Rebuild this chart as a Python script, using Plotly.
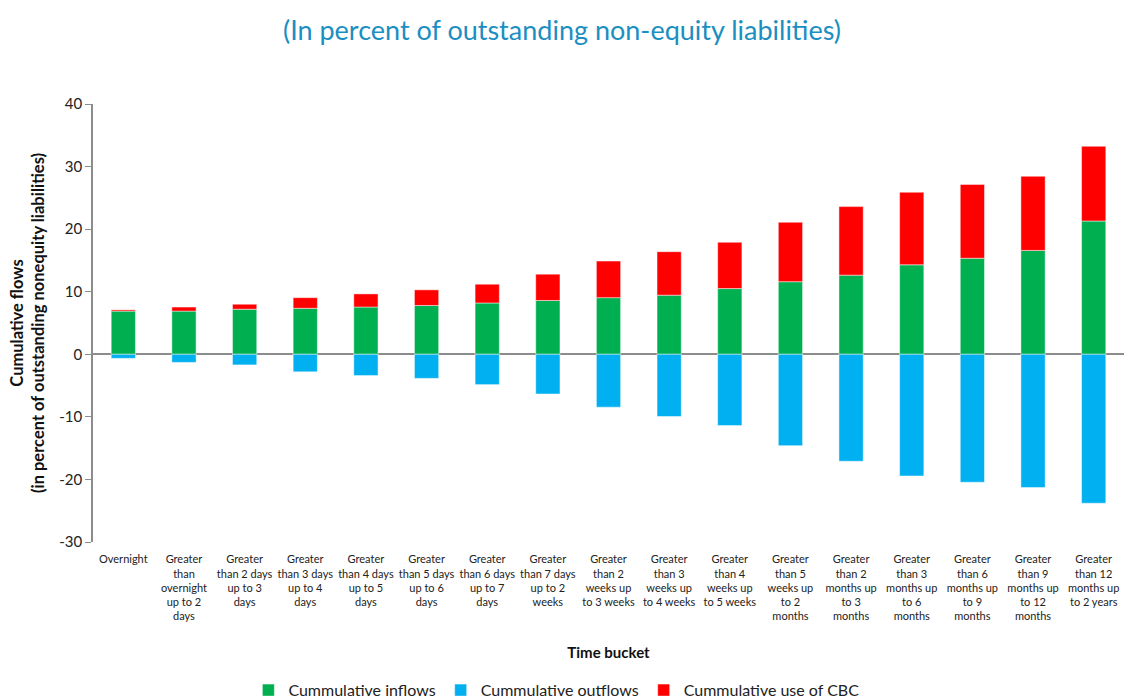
import plotly.graph_objects as go

categories = [
    "Overnight",
    "Greater<br>than<br>overnight<br>up to 2<br>days",
    "Greater<br>than 2 days<br>up to 3<br>days",
    "Greater<br>than 3 days<br>up to 4<br>days",
    "Greater<br>than 4 days<br>up to 5<br>days",
    "Greater<br>than 5 days<br>up to 6<br>days",
    "Greater<br>than 6 days<br>up to 7<br>days",
    "Greater<br>than 7 days<br>up to 2<br>weeks",
    "Greater<br>than 2<br>weeks up<br>to 3 weeks",
    "Greater<br>than 3<br>weeks up<br>to 4 weeks",
    "Greater<br>than 4<br>weeks up<br>to 5 weeks",
    "Greater<br>than 5<br>weeks up<br>to 2<br>months",
    "Greater<br>than 2<br>months up<br>to 3<br>months",
    "Greater<br>than 3<br>months up<br>to 6<br>months",
    "Greater<br>than 6<br>months up<br>to 9<br>months",
    "Greater<br>than 9<br>months up<br>to 12<br>months",
    "Greater<br>than 12<br>months up<br>to 2 years",
]

inflows = [6.9, 6.9, 7.2, 7.35, 7.55, 7.8, 8.2, 8.6, 9.05, 9.45, 10.5, 11.6, 12.65, 14.3, 15.35, 16.6, 21.3]
outflows = [-0.65, -1.3, -1.7, -2.8, -3.4, -3.85, -4.85, -6.35, -8.45, -9.95, -11.4, -14.6, -17.1, -19.45, -20.45, -21.3, -23.8]
cbc_use = [0.2, 0.65, 0.8, 1.7, 2.1, 2.5, 3.0, 4.2, 5.85, 6.95, 7.4, 9.5, 10.95, 11.6, 11.8, 11.85, 11.95]

y_tickvals = [-30, -20, -10, 0, 10, 20, 30, 40]
y_ticktext = ["-30", "-20", "-10", "0", "10", "20", "30", "40"]

FONT = "Lato, 'Open Sans', sans-serif"
edge = dict(width=0.8, color="rgba(255,255,255,0.6)")

fig = go.Figure()
fig.add_trace(go.Bar(x=categories, y=inflows, name="Cummulative inflows",
                     marker=dict(color="#00B050", line=edge)))
fig.add_trace(go.Bar(x=categories, y=outflows, name="Cummulative outflows",
                     marker=dict(color="#00B0F0", line=edge)))
fig.add_trace(go.Bar(x=categories, y=cbc_use, name="Cummulative use of CBC",
                     marker=dict(color="#FF0000", line=edge)))

fig.update_layout(
    width=1124, height=700,
    barmode="relative",
    bargap=0.6,
    plot_bgcolor="white", paper_bgcolor="white",
    font=dict(family=FONT, color="#222222"),
    margin=dict(l=93, r=0, t=104, b=158, autoexpand=False),
    title=dict(text="(In percent of outstanding non-equity liabilities)",
               x=0.5, xanchor="center", xref="container",
               y=0.957, yanchor="middle", yref="container",
               font=dict(size=27, color="#1b8ec2", family=FONT)),
    legend=dict(orientation="h", xref="container", yref="container",
                x=0.495, xanchor="center", y=0.014, yanchor="middle",
                font=dict(size=16, color="#222222"),
                traceorder="normal", itemwidth=30),
    showlegend=True,
)

fig.update_yaxes(
    range=[-30, 40], tickvals=y_tickvals, ticktext=y_ticktext,
    showgrid=False, showline=True, linecolor="#8c8c8c", linewidth=1.5,
    ticks="outside", ticklen=6, tickcolor="#8c8c8c",
    tickfont=dict(size=15, color="#222222"),
    zeroline=True, zerolinecolor="#8c8c8c", zerolinewidth=1.5,
    automargin=False,
    title=dict(text="<b>Cumulative flows<br>(in percent of outstanding nonequity liabilities)</b>",
               font=dict(size=16.5, color="#111111"), standoff=10),
)
fig.update_xaxes(
    showgrid=False, showline=False, ticks="outside", ticklen=7,
    tickcolor="rgba(0,0,0,0)",
    tickfont=dict(size=11, color="#222222"),
    tickangle=0, automargin=False,
    title=dict(text="<b>Time bucket</b>", font=dict(size=15, color="#111111"), standoff=26),
)

fig.write_html(
    "out.html",
    config={"displayModeBar": False},
    post_script="document.body.style.margin='0';document.body.style.overflow='hidden';",
)
